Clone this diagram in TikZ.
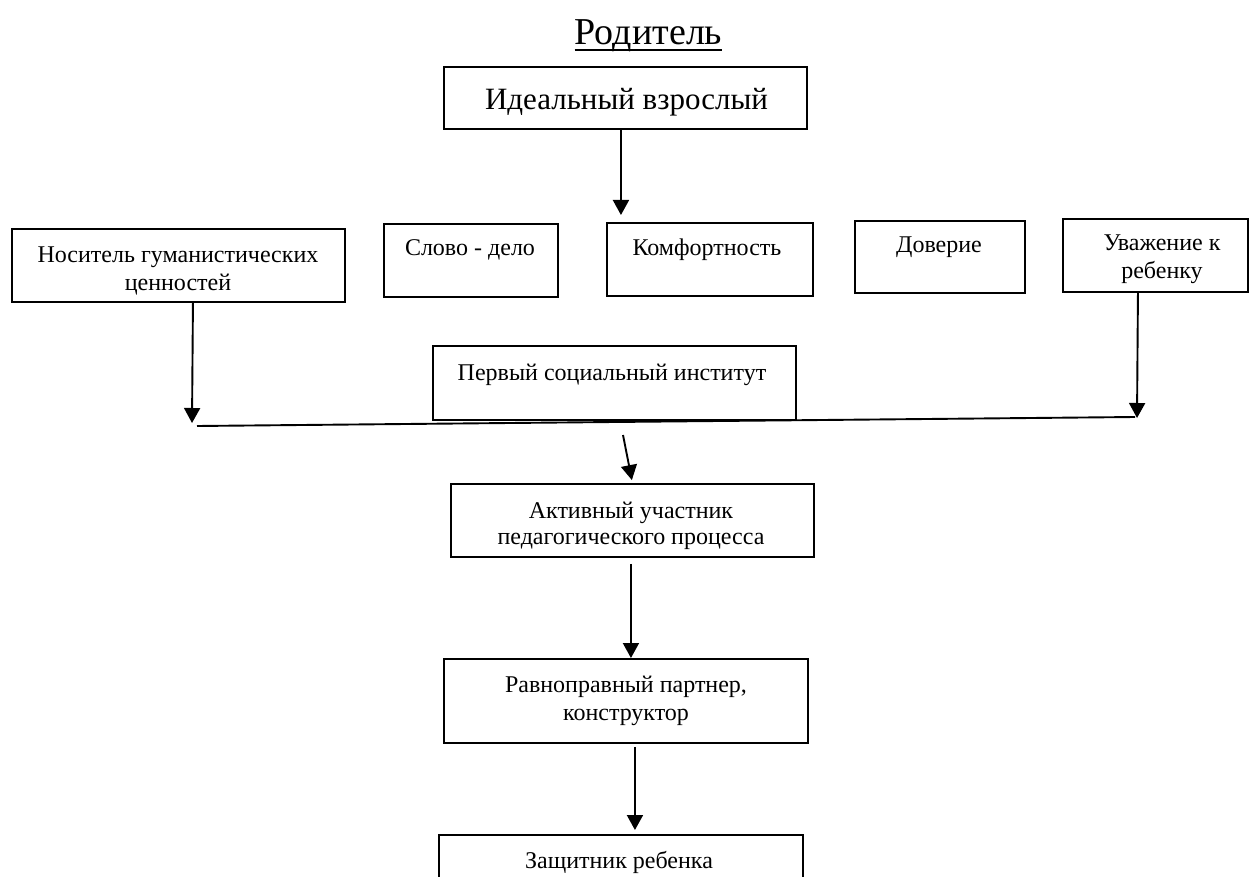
\documentclass[tikz,border=0pt]{standalone}
\usepackage{fontspec}
\setmainfont{Liberation Serif}
\usetikzlibrary{arrows.meta}
\tikzset{
  box/.style={draw, line width=1.9pt, inner sep=0pt, anchor=north west},
  txt/.style={anchor=base, inner sep=0pt, font=\fontsize{24}{28}\selectfont},
  arr/.style={line width=1.9pt, -{Triangle[width=16pt,length=15pt]}},
  lnk/.style={line width=1.9pt}
}
\newcommand{\twolines}[2]{\begin{tabular}[t]{@{}c@{}}#1\\#2\end{tabular}}
\begin{document}
\begin{tikzpicture}[x=1pt,y=1pt]
\useasboundingbox (0,0) rectangle (1249,-877);
\clip (0,0) rectangle (1249,-877);
% title
\node[txt, font=\fontsize{38}{42}\selectfont] (title) at (648.5,-45) {Родитель};
\draw[line width=1.5pt] ([yshift=-5pt]title.base west) -- ([yshift=-5pt]title.base east);
% boxes
\node[box, minimum width=363pt, minimum height=62pt] (ideal) at (443,-66) {};
\node[box, minimum width=333pt, minimum height=73pt] (nos) at (11,-228) {};
\node[box, minimum width=174pt, minimum height=73pt] (slovo) at (383,-223) {};
\node[box, minimum width=206pt, minimum height=73pt] (komf) at (606,-222) {};
\node[box, minimum width=170pt, minimum height=72pt] (dov) at (854,-220) {};
\node[box, minimum width=185pt, minimum height=73pt] (uvazh) at (1062,-218) {};
\node[box, minimum width=363pt, minimum height=74pt] (perv) at (432,-345) {};
\node[box, minimum width=363pt, minimum height=73pt] (akt) at (450,-483) {};
\node[box, minimum width=364pt, minimum height=84pt] (ravn) at (443,-658) {};
\node[box, minimum width=364pt, minimum height=70pt] (zasch) at (438,-834) {};
% texts
\node[txt, font=\fontsize{31}{35}\selectfont] (t_ideal) at (626.5,-110) {Идеальный взрослый};
\node[txt] (t_nos) at (178,-262) {\twolines{Носитель гуманистических}{ценностей}};
\node[txt] (t_slovo) at (470,-255) {Слово - дело};
\node[txt] (t_komf) at (707,-255) {Комфортность};
\node[txt] (t_dov) at (939,-253) {Доверие};
\node[txt] (t_uvazh) at (1162,-251) {\twolines{Уважение к}{ребенку}};
\node[txt] (t_perv) at (612,-380) {Первый социальный институт};
\node[txt, font=\fontsize{24}{26}\selectfont] (t_akt) at (631,-518) {\twolines{Активный участник}{педагогического процесса}};
\node[txt] (t_ravn) at (626,-692) {\twolines{Равноправный партнер,}{конструктор}};
\node[txt] (t_zasch) at (619,-868) {Защитник ребенка};
% connector points
\coordinate (nosend) at (192,-423);
\coordinate (uvend) at (1137,-418);
\coordinate (lineL) at (197,-426);
\coordinate (lineR) at (1135,-417);
\coordinate (slstart) at (623,-435);
% connectors
\draw[arr, shorten >=7pt] ([xshift=-4.5pt]ideal.south) -- ([xshift=-4.5pt]ideal.south |- komf.north);
\draw[arr] ([xshift=14.5pt]nos.south) -- (nosend);
\draw[arr] ([xshift=-17.5pt]uvazh.south) -- (uvend);
\draw[lnk] (lineL) -- (lineR);
\draw[arr, shorten >=3pt] (slstart) -- (akt.north);
\draw[arr, shorten <=6pt] ([xshift=-1.5pt]akt.south) -- ([xshift=-1.5pt]akt.south |- ravn.north);
\draw[arr, shorten <=3pt, shorten >=4pt] ([xshift=9pt]ravn.south) -- ([xshift=9pt]ravn.south |- zasch.north);
\end{tikzpicture}
\end{document}
